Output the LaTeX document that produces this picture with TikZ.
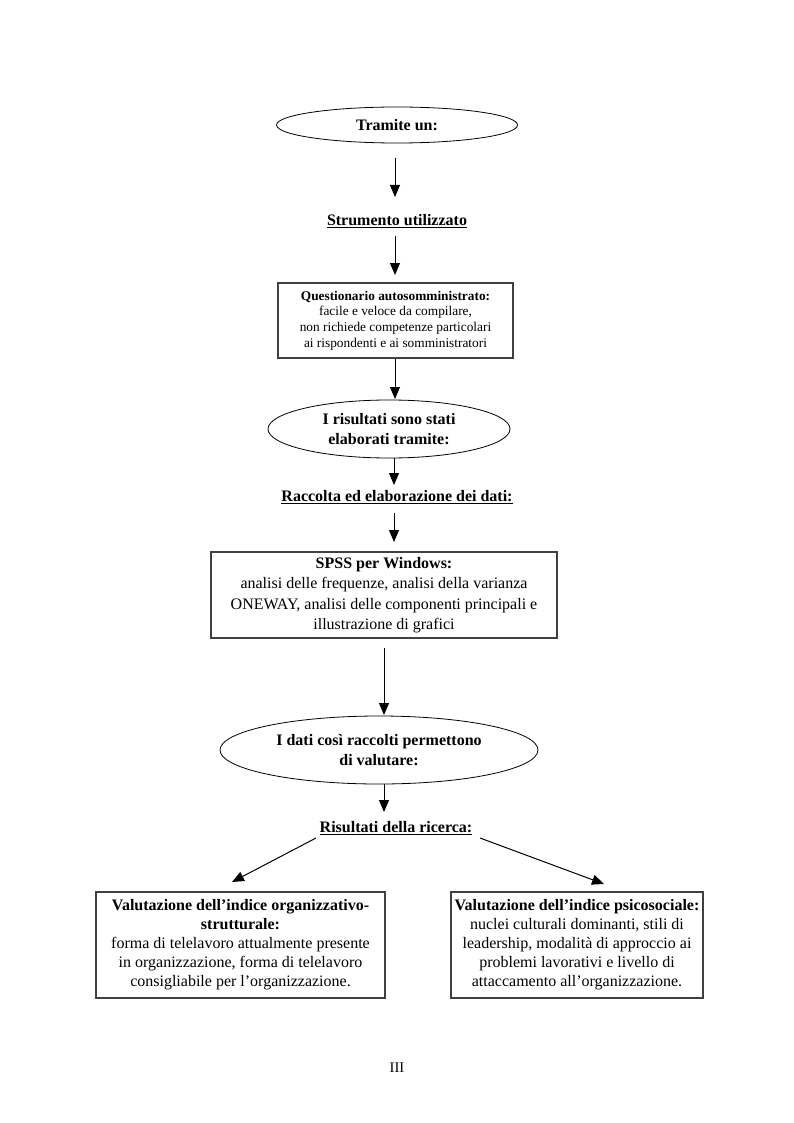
\documentclass[tikz,border=0pt]{standalone}
\usepackage{fontspec}
\setmainfont{Liberation Serif}
\usetikzlibrary{shapes.geometric,arrows.meta}
\begin{document}
\begin{tikzpicture}[x=0.75pt,y=-0.75pt,
  arr/.style={draw=black, line width=0.75pt, -{Triangle[width=7.5pt,length=9pt]}},
  oval/.style={draw=black, ellipse, line width=0.6pt, inner sep=0pt, align=center,
    font=\fontsize{12}{15.5}\selectfont\bfseries},
  boxnode/.style={draw=black!75, line width=1pt, inner sep=0pt, align=center},
  head/.style={inner sep=0pt, font=\fontsize{12}{14}\selectfont\bfseries}]
\useasboundingbox (0,0) rectangle (793,1123);

% nodes
\node[oval, minimum width=180.75pt, minimum height=27pt] (e1) at (397,125) {Tramite un:};
\node[head] (s1) at (397,221) {\underline{Strumento utilizzato}};
\node[boxnode, minimum width=176.25pt, minimum height=56.25pt,
  font=\fontsize{10}{11.8}\selectfont] (b1) at (395.5,320.5)
  {\textbf{Questionario autosomministrato:}\\facile e veloce da compilare,\\non richiede competenze particolari\\ai rispondenti e ai somministratori};
\node[oval, minimum width=181.5pt, minimum height=43.5pt] (e2) at (389,429)
  {I risultati sono stati\\elaborati tramite:};
\node[head] (s2) at (397,497) {\underline{Raccolta ed elaborazione dei dati:}};
\node[boxnode, minimum width=259.5pt, minimum height=64.5pt,
  font=\fontsize{12}{15.4}\selectfont] (b2) at (384,595)
  {\textbf{SPSS per Windows:}\\analisi delle frequenze, analisi della varianza\\ONEWAY, analisi delle componenti principali e\\illustrazione di grafici};
\node[oval, minimum width=238.5pt, minimum height=51pt] (e3) at (379,750)
  {I dati così raccolti permettono\\di valutare:};
\node[head] (s3) at (396,828) {\underline{Risultati della ricerca:}};
\node[boxnode, minimum width=216.75pt, minimum height=79.5pt,
  font=\fontsize{12}{14.3}\selectfont] (b3) at (240.5,945)
  {\textbf{Valutazione dell’indice organizzativo-}\\\textbf{strutturale:}\\forma di telelavoro attualmente presente\\in organizzazione, forma di telelavoro\\consigliabile per l’organizzazione.};
\node[boxnode, minimum width=189pt, minimum height=79.5pt,
  font=\fontsize{12}{14.3}\selectfont] (b4) at (577,945)
  {\textbf{Valutazione dell’indice psicosociale:}\\nuclei culturali dominanti, stili di\\leadership, modalità di approccio ai\\problemi lavorativi e livello di\\attaccamento all’organizzazione.};
\node[inner sep=0pt, font=\fontsize{11}{13}\selectfont] (pg) at (397,1068) {III};

% connector end points
\coordinate (a1s) at (395,158); \coordinate (a1e) at (395,197);
\coordinate (a2s) at (395,236); \coordinate (a2e) at (395,275);
\coordinate (a3e) at (395,399);
\coordinate (a4e) at (394,485);
\coordinate (a5s) at (394,513); \coordinate (a5e) at (394,542);
\coordinate (a6s) at (384,648); \coordinate (a6e) at (384,715);
\coordinate (a7e) at (384,812);
\coordinate (a8s) at (316,838); \coordinate (a8e) at (232,882);
\coordinate (a9s) at (480,838); \coordinate (a9e) at (604,884);

% connectors
\draw[arr] (a1s) -- (a1e);
\draw[arr] (a2s) -- (a2e);
\draw[arr] (b1.south -| a3e) -- (a3e);
\draw[arr] (e2.south -| a4e) -- (a4e);
\draw[arr] (a5s) -- (a5e);
\draw[arr] (a6s) -- (a6e);
\draw[arr] (e3.south -| a7e) -- (a7e);
\draw[arr] (a8s) -- (a8e);
\draw[arr] (a9s) -- (a9e);
\end{tikzpicture}
\end{document}
